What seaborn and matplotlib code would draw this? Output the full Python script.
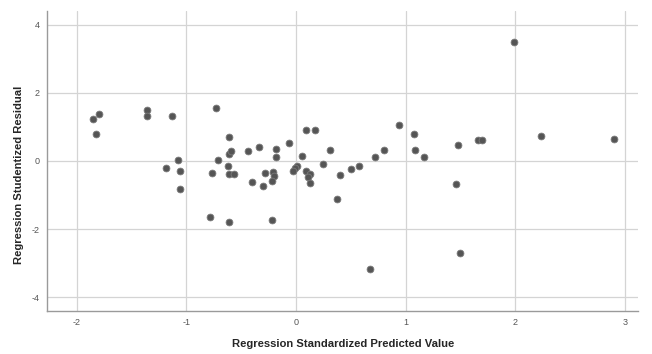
import matplotlib
matplotlib.use("Agg")
from matplotlib import pyplot as plt
import pandas as pd
import seaborn as sns

predicted = [-1.854, -1.799, -1.827, -1.361, -1.361, -1.133, -1.078, -1.188,
             -1.060, -1.060, -0.786, -0.613, -0.221, -0.732, -0.613, -0.713,
             -0.613, -0.595, -0.622, -0.768, -0.613, -0.568, -0.440, -0.339,
             -0.066, -0.184, -0.184, -0.285, -0.212, -0.203, -0.403, -0.303,
             -0.221, 0.089, 0.172, 0.053, 0.007, -0.011, -0.029, 0.089,
             0.126, 0.108, 0.126, 0.308, 0.245, 0.400, 0.500, 0.573,
             0.719, 0.801, 0.938, 1.075, 1.084, 1.166, 0.372, 0.673,
             1.476, 1.458, 1.495, 1.659, 1.695, 1.991, 2.237, 2.894]
residual = [1.235, 1.382, 0.794, 1.485, 1.324, 1.309, 0.029, -0.206,
            -0.294, -0.824, -1.647, -1.794, -1.735, 1.544, 0.706, 0.029,
            0.206, 0.294, -0.147, -0.353, -0.382, -0.382, 0.294, 0.412,
            0.529, 0.353, 0.118, -0.353, -0.324, -0.441, -0.632, -0.721,
            -0.603, 0.912, 0.912, 0.147, -0.147, -0.206, -0.294, -0.294,
            -0.382, -0.471, -0.647, 0.324, -0.088, -0.412, -0.235, -0.147,
            0.118, 0.324, 1.059, 0.794, 0.324, 0.118, -1.132, -3.176,
            0.456, -0.676, -2.706, 0.603, 0.603, 3.485, 0.735, 0.632]
x_ticks = [-2, -1, 0, 1, 2, 3]
y_ticks = [-4, -2, 0, 2, 4]

df = pd.DataFrame({'Predicted': predicted, 'Residual': residual})

sns.set_style("white")
plt.rcParams['font.family'] = ['Liberation Sans', 'DejaVu Sans']
plt.rcParams['axes.unicode_minus'] = False

f = plt.figure(figsize=(6.52, 3.54), dpi=100)
ax = f.add_axes([0.072, 0.1215, 0.907, 0.8475])

ax = sns.scatterplot(data=df, x='Predicted', y='Residual', ax=ax,
                     color='#555555', edgecolor='#7a7a7a', linewidth=0.6,
                     s=24, zorder=3)

ax.set_xlim(-2.27, 3.12)
ax.set_ylim(-4.41, 4.41)
ax.set_xticks(x_ticks)
ax.set_yticks(y_ticks)
ax.grid(True, color='#d4d4d4', linewidth=0.9)
ax.tick_params(length=0, labelsize=6.5, labelcolor='#555555', pad=5)

for side in ['top', 'right']:
    ax.spines[side].set_visible(False)
for side in ['left', 'bottom']:
    ax.spines[side].set_color('#9a9a9a')
    ax.spines[side].set_linewidth(1.0)

ax.set_xlabel('Regression Standardized Predicted Value', fontsize=8.1,
              fontweight='bold', labelpad=9)
ax.set_ylabel('Regression Studentized Residual', fontsize=8.1,
              fontweight='bold')
ax.yaxis.set_label_coords(-0.039, 0.455)

f.savefig('out.png', dpi=100)
